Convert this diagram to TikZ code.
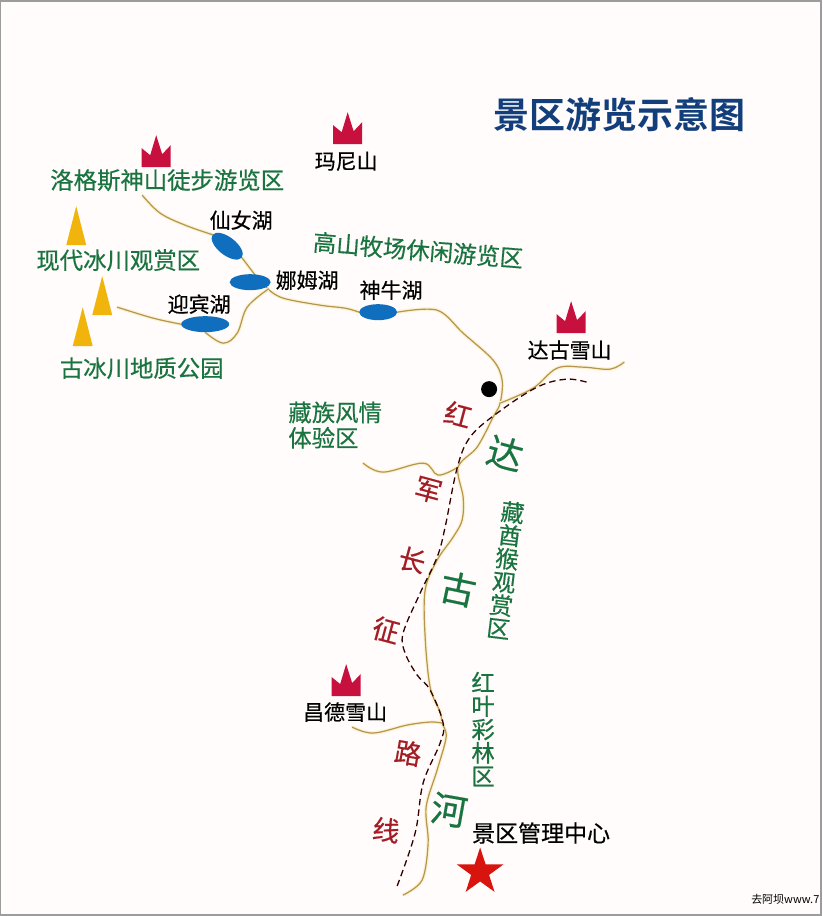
\documentclass[tikz,border=0pt]{standalone}
\usepackage{fontspec}
\setmainfont[FakeBold=0.5]{Noto Sans CJK SC}
\newfontfamily\titlefont[BoldFont={Noto Sans CJK SC},BoldFeatures={FakeBold=0}]{Noto Sans CJK SC Bold}
\newfontfamily\markfont{Noto Sans CJK SC}
\usetikzlibrary{shapes.geometric}
\definecolor{paper}{HTML}{FFFCFB}
\definecolor{framegray}{HTML}{9C9C9C}
\definecolor{titleblue}{HTML}{123F7B}
\definecolor{zonegreen}{HTML}{1A7440}
\definecolor{routered}{HTML}{A31D24}
\definecolor{crownred}{HTML}{C8103F}
\definecolor{peakgold}{HTML}{F0B40C}
\definecolor{lakeblue}{HTML}{0F6FBE}
\definecolor{rivertan}{HTML}{B5964A}
\definecolor{riverhalo}{HTML}{FBF1D3}
\definecolor{starred}{HTML}{D8140E}
\newcommand{\fsz}[1]{\fontsize{#1}{#1}\selectfont}
\pgfdeclarelayer{riverlayer}
\pgfsetlayers{riverlayer,main}
\tikzset{
  x=1pt,y=-1pt,
  river/.style={draw=rivertan,line width=1.2pt,line cap=round,line join=round,
    preaction={draw=riverhalo,line width=3.5pt}},
  redroute/.style={draw=black!80!red,line width=1.3pt,dash pattern=on 6.5pt off 4pt},
  lake/.style={ellipse,fill=lakeblue,inner sep=0pt},
  zone/.style={text=zonegreen,font=\fsz{23.4},inner sep=0pt,align=center},
  place/.style={text=black,font=\fsz{21},inner sep=0pt,align=center},
  routech/.style={text=routered,font=\fsz{27},inner sep=0pt},
  riverch/.style={text=zonegreen,font=\fsz{36},inner sep=0pt},
  crownpic/.pic={\fill[crownred] (-14.5,0)--(-14.5,-19)--(-6,-12)--(0,-32)--(6,-13)--(14.5,-22)--(14.5,0)--cycle;},
  peakpic/.pic={\fill[peakgold] (-10,0)--(0,-39)--(10,0)--cycle;}
}
\begin{document}
\begin{tikzpicture}
\begin{pgfonlayer}{riverlayer}
\path[use as bounding box,fill=paper] (0,0) rectangle (822,916);
\end{pgfonlayer}
\draw[framegray,line width=1.5pt] (0.5,0.5) rectangle (821,915);

% lakes
\path (227,246) node[lake,minimum width=37pt,minimum height=18pt,rotate=-38] (xiannv) {};
\path (250,282) node[lake,minimum width=41pt,minimum height=16pt] (namu) {};
\path (205,324) node[lake,minimum width=48pt,minimum height=16pt] (yingbin) {};
\path (378,312) node[lake,minimum width=38pt,minimum height=16pt] (shenniu) {};

\coordinate (logeEnd) at (142,195);
\coordinate (geoEnd) at (117,307);
\coordinate (riverMouth) at (403,895);
\coordinate (daguEnd) at (624,362);
\coordinate (zangEnd) at (363,463);
\coordinate (changdeEnd) at (352,727);
\coordinate (daguFork) at (500,403);
\coordinate (zangFork) at (458,467);
\coordinate (changdeFork) at (442,723);
\coordinate (namuFork) at (268,289);
\coordinate (routeStart) at (397,886);
\coordinate (routeEnd) at (590,383);

\begin{pgfonlayer}{riverlayer}
% rivers
\draw[river] plot[smooth,tension=.6] coordinates {(logeEnd) (160,213) (185,225) (xiannv.west)};
\draw[river] (xiannv.east) -- (255,275) -- (namuFork);
\draw[river] plot[smooth,tension=.6] coordinates {(namuFork) (283,298) (320,305) (345,308) (shenniu.west)};
\draw[river] plot[smooth,tension=.6] coordinates {(geoEnd) (153,318) (yingbin.west)};
\draw[river] plot[smooth,tension=.6] coordinates {(yingbin.south) (223,343) (237,333) (247,307) (namuFork)};
\draw[river] plot[smooth,tension=.55] coordinates {(shenniu.east) (437,310) (463,333) (493,360) (502,380) (daguFork) (493,417) (477,447) (zangFork) (463,497) (462,520) (453,537) (437,560) (425,590) (425,637) (430,687) (440,712) (changdeFork) (446,737) (437,770) (426,807) (428,843) (422,880) (riverMouth)};
\draw[river] plot[smooth,tension=.6] coordinates {(daguFork) (533,388) (557,368) (583,367) (610,369) (daguEnd)};
\draw[river] plot[smooth,tension=.6] coordinates {(zangEnd) (383,472) (423,463) (438,475) (zangFork)};
\draw[river] plot[smooth,tension=.6] coordinates {(changdeEnd) (373,733) (407,725) (430,722) (changdeFork)};
\end{pgfonlayer}

% red army route
\draw[redroute] plot[smooth,tension=.6] coordinates {(routeStart) (415,833) (423,783) (440,743) (443,723) (430,690) (417,675) (405,653) (403,633) (420,593) (437,557) (445,527) (457,468) (470,437) (497,413) (537,387) (567,379) (routeEnd)};

% mountains
\pic at (156,167) {crownpic};
\pic at (347.5,144) {crownpic};
\pic at (571,333) {crownpic};
\pic at (346,696) {crownpic};
\pic at (76,245) {peakpic};
\pic at (102,315) {peakpic};
\pic at (82.5,346) {peakpic};

\fill[black] (489,389) circle (8);
\node[star,star points=5,star point ratio=2.6,fill=starred,inner sep=0pt,minimum size=49pt] (hq) at (480,872) {};

% title
\node[text=titleblue,font=\fsz{36}\titlefont,inner sep=0pt] (title) at (619.5,114) {景区游览示意图};

% zones
\node[zone] (z1) at (167,180) {洛格斯神山徒步游览区};
\node[zone,rotate=-4.5] (z2) at (418,250) {高山牧场休闲游览区};
\node[zone] (z3) at (118,260) {现代冰川观赏区};
\node[zone] (z4) at (141.5,368) {古冰川地质公园};
\node[zone,align=left,font=\fsz{23.4}] (z5) at (335,425) {藏族风情\\[2pt]体验区};
\node[zone,rotate=-7,font=\fontsize{23.4}{23.4}\selectfont] (z6) at (505.5,570) {藏\\酋\\猴\\观\\赏\\区};
\node[zone,font=\fontsize{23.4}{23.4}\selectfont] (z7) at (483,729) {红\\叶\\彩\\林\\区};

% places
\node[place] (p1) at (346,161) {玛尼山};
\node[place] (p2) at (241,220) {仙女湖};
\node[place] (p3) at (307,280) {娜姆湖};
\node[place] (p4) at (199,304) {迎宾湖};
\node[place] (p5) at (391,290) {神牛湖};
\node[place] (p6) at (569.5,350) {达古雪山};
\node[place] (p7) at (345,712) {昌德雪山};
\node[place,font=\fsz{23}] (p8) at (541,833) {景区管理中心};

% route characters
\node[routech,rotate=-15] (r1) at (458,414) {红};
\node[routech,rotate=-15] (r2) at (428,490) {军};
\node[routech,rotate=-15] (r3) at (412,560) {长};
\node[routech,rotate=-15] (r4) at (386,630) {征};
\node[routech,rotate=-10] (r5) at (408,753) {路};
\node[routech,rotate=-8] (r6) at (386,830) {线};

% river name
\node[riverch,rotate=-15] (v1) at (505,453) {达};
\node[riverch,rotate=-12] (v2) at (458,589) {古};
\node[riverch,rotate=-10] (v3) at (449,810) {河};

% watermark
\node[anchor=west,inner sep=0pt,font=\fsz{11}\markfont] (wm) at (751,899) {去阿坝www.7};
\end{tikzpicture}
\end{document}
